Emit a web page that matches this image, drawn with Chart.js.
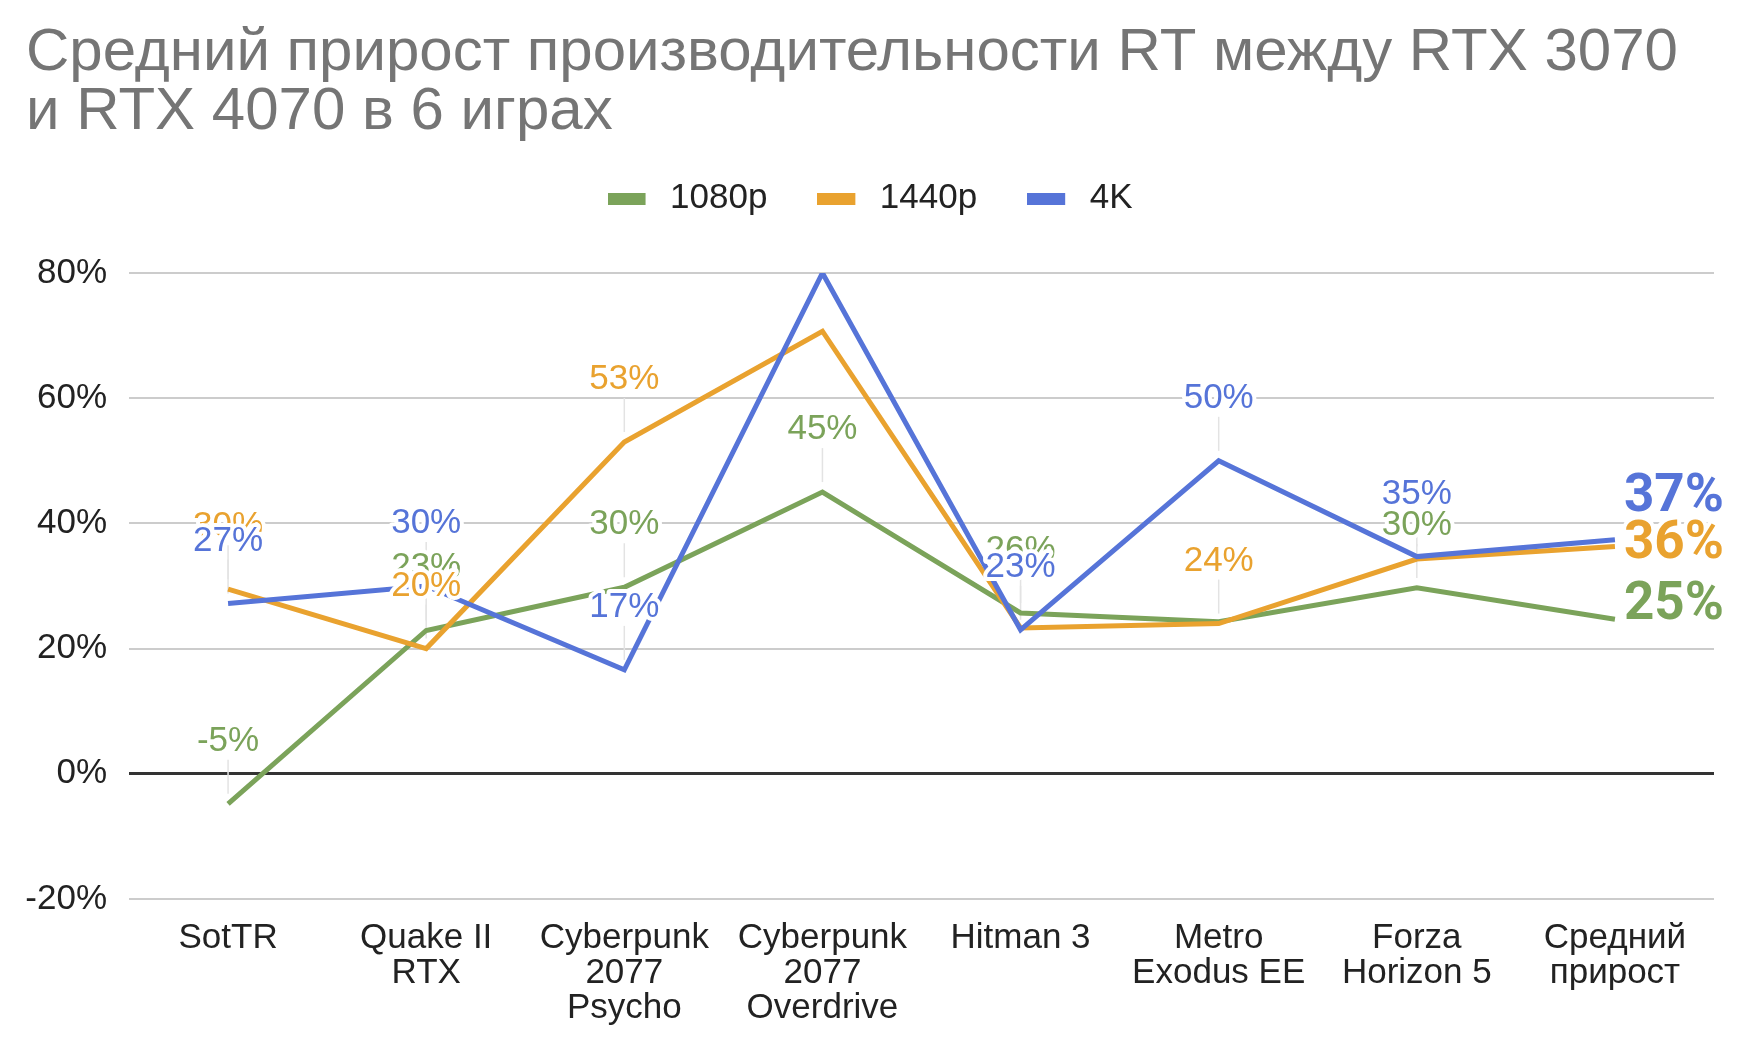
<!DOCTYPE html>
<html>
<head>
<meta charset="utf-8">
<script src="https://cdn.jsdelivr.net/npm/chart.js@4.4.1/dist/chart.umd.min.js"></script>
<style>
  html, body { margin: 0; padding: 0; background: #fff; }
</style>
</head>
<body>
<canvas id="rtChart" width="1756" height="1047"></canvas>
<script>
// categories (multi-line tick labels)
const categories = [
  ['SotTR'],
  ['Quake II', 'RTX'],
  ['Cyberpunk', '2077', 'Psycho'],
  ['Cyberpunk', '2077', 'Overdrive'],
  ['Hitman 3'],
  ['Metro', 'Exodus EE'],
  ['Forza', 'Horizon 5'],
  ['Средний', 'прирост']
];
const seriesNames = ['1080p', '1440p', '4K'];

// gain in %
const gain1080 = [-4.8, 22.9, 29.8, 45, 25.7, 24.3, 29.7, 24.7];
const gain1440 = [29.5, 20, 53, 70.7, 23.3, 24, 34.3, 36.3];
const gain4k = [27.2, 30, 16.6, 80, 23, 50, 34.7, 37.4];

// which point labels are visible (last point gets the big label)
const shown1080 = [true, true, true, true, true, false, true];
const shown1440 = [true, true, true, false, false, true, false];
const shown4k = [true, true, true, false, true, true, true];

const yTicks = [-20, 0, 20, 40, 60, 80];

const colors = ['#7ba35a', '#e9a22f', '#5674d8'];
const FONT = '"Liberation Sans", Arial, sans-serif';
const BOLD_FONT = 'Roboto';

const pct = v => Math.round(v) + '%';

// legend swatch: 38x12 bar with some air on the right
function swatch(color) {
  const c = document.createElement('canvas');
  c.width = 45;
  c.height = 12;
  const g = c.getContext('2d');
  g.fillStyle = color;
  g.fillRect(0, 0, 38, 12);
  return c;
}

// labels above points + bold labels at the last point
const pointLabels = {
  id: 'pointLabels',
  beforeDatasetsDraw(chart) {
    const ctx = chart.ctx;
    const shown = chart.options.plugins.pointLabels.shown;
    ctx.save();
    ctx.strokeStyle = '#e3e3e3';
    ctx.lineWidth = 1.5;
    chart.data.datasets.forEach((ds, di) => {
      const meta = chart.getDatasetMeta(di);
      shown[di].forEach((on, i) => {
        if (!on) return;
        const p = meta.data[i];
        ctx.beginPath();
        ctx.moveTo(p.x, p.y - 44);
        ctx.lineTo(p.x, p.y - 10);
        ctx.stroke();
      });
    });
    ctx.restore();
  },
  afterDatasetsDraw(chart) {
    const ctx = chart.ctx;
    const opts = chart.options.plugins.pointLabels;
    ctx.save();
    ctx.lineJoin = 'round';
    ctx.textBaseline = 'alphabetic';
    chart.data.datasets.forEach((ds, di) => {
      const meta = chart.getDatasetMeta(di);
      ctx.font = '35px ' + FONT;
      ctx.textAlign = 'center';
      opts.shown[di].forEach((on, i) => {
        if (!on) return;
        const p = meta.data[i];
        const t = pct(ds.data[i]);
        ctx.strokeStyle = '#fff';
        ctx.lineWidth = 8;
        ctx.strokeText(t, p.x, p.y - 53);
        ctx.fillStyle = ds.borderColor;
        ctx.fillText(t, p.x, p.y - 53);
      });
      const last = ds.data.length - 1;
      const p = meta.data[last];
      ctx.font = 'bold 53px ' + BOLD_FONT;
      ctx.textAlign = 'left';
      ctx.strokeStyle = '#fff';
      ctx.lineWidth = 8;
      ctx.strokeText(pct(ds.data[last]), p.x + 9, p.y + opts.endShift[di]);
      ctx.fillStyle = ds.borderColor;
      ctx.fillText(pct(ds.data[last]), p.x + 9, p.y + opts.endShift[di]);
    });
    ctx.restore();
  }
};

const ctx = document.getElementById('rtChart').getContext('2d');
const rtChart = new Chart(ctx, {
  type: 'line',
  data: {
    labels: categories,
    datasets: [
      { label: seriesNames[0], data: gain1080, borderColor: colors[0], backgroundColor: colors[0], pointStyle: swatch(colors[0]), order: 2 },
      { label: seriesNames[1], data: gain1440, borderColor: colors[1], backgroundColor: colors[1], pointStyle: swatch(colors[1]), order: 1 },
      { label: seriesNames[2], data: gain4k, borderColor: colors[2], backgroundColor: colors[2], pointStyle: swatch(colors[2]), order: 0 }
    ]
  },
  options: {
    responsive: false,
    animation: false,
    layout: { padding: { left: 26, right: 42, top: 0, bottom: 0 } },
    elements: {
      line: { borderWidth: 5, tension: 0, borderJoinStyle: 'miter' },
      point: { radius: 0, hoverRadius: 0 }
    },
    plugins: {
      title: {
        display: true,
        text: ['Средний прирост производительности RT между RTX 3070', 'и RTX 4070 в 6 играх'],
        align: 'start',
        color: '#757575',
        font: { family: FONT, size: 60, weight: 'normal', lineHeight: '59px' },
        padding: { top: 24, bottom: -11 }
      },
      legend: {
        display: true,
        position: 'top',
        labels: {
          usePointStyle: true,
          pointStyleWidth: 45,
          boxHeight: 12,
          padding: 50,
          color: '#222',
          font: { family: FONT, size: 35 },
          sort: (a, b) => a.datasetIndex - b.datasetIndex
        }
      },
      // empty spacer between legend and plot
      subtitle: {
        display: true,
        text: '',
        weight: 500,
        font: { family: FONT, size: 10, lineHeight: '10px' },
        padding: { top: 37, bottom: 0 }
      },
      tooltip: { enabled: false },
      pointLabels: {
        shown: [shown1080, shown1440, shown4k],
        endShift: [0, 11, -29]
      }
    },
    scales: {
      x: {
        offset: true,
        grid: { display: false },
        border: { display: false },
        ticks: {
          color: '#222',
          font: { family: FONT, size: 35, lineHeight: '35px' },
          padding: 14,
          maxRotation: 0,
          autoSkip: false
        },
        afterFit(scale) { scale.height = 148; }
      },
      y: {
        min: yTicks[0],
        max: yTicks[yTicks.length - 1],
        border: { display: false },
        afterBuildTicks(scale) { scale.ticks = yTicks.map(v => ({ value: v })); },
        grid: {
          drawTicks: false,
          color: c => (c.tick && c.tick.value === 0) ? '#333333' : '#cccccc',
          lineWidth: c => (c.tick && c.tick.value === 0) ? 3 : 2
        },
        ticks: {
          color: '#222',
          font: { family: FONT, size: 35 },
          padding: 22,
          callback: v => v + '%'
        },
        afterFit(scale) { scale.width = 103; }
      }
    }
  },
  plugins: [pointLabels]
});
</script>
</body>
</html>
